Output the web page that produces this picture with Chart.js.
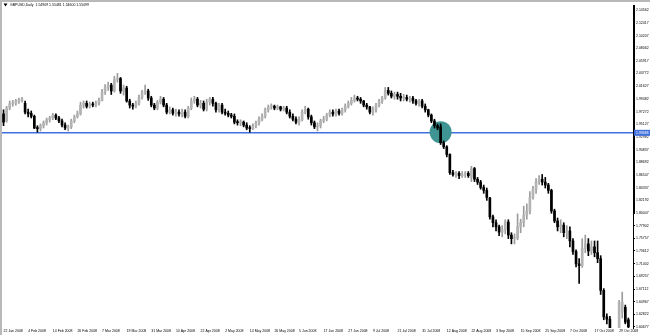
<!DOCTYPE html>
<html>
<head>
<meta charset="utf-8">
<title>GBPUSD Daily</title>
<script src="https://cdn.jsdelivr.net/npm/chart.js@4.4.1/dist/chart.umd.min.js"></script>
<style>
  html, body { margin: 0; padding: 0; background: #fff; }
  #frame { width: 648px; height: 333px; border-top: 2px solid #b9b9b9; border-left: 2px solid #b9b9b9; }
  canvas { display: block; }
</style>
</head>
<body>
<div id="frame"><canvas id="chart" width="648" height="333"></canvas></div>
<script>
/* GBPUSD daily candles, Jan-Oct 2008. */
var TITLE = 'GBPUSD,Daily  1.54909 1.55481 1.54600 1.55099';

// date labels, one every LABEL_STEP bars starting at bar 0
var LABEL_STEP = 8;
var dateLabels = ['22 Jan 2008', '4 Feb 2008', '14 Feb 2008', '26 Feb 2008', '7 Mar 2008', '19 Mar 2008',
  '31 Mar 2008', '10 Apr 2008', '22 Apr 2008', '2 May 2008', '14 May 2008', '26 May 2008', '5 Jun 2008',
  '17 Jun 2008', '27 Jun 2008', '9 Jul 2008', '21 Jul 2008', '31 Jul 2008', '12 Aug 2008', '22 Aug 2008',
  '3 Sep 2008', '15 Sep 2008', '25 Sep 2008', '7 Oct 2008', '17 Oct 2008', '29 Oct 2008'];

var priceTicks = [2.14562, 2.12417, 2.10207, 2.08062, 2.05917, 2.03772, 2.01627, 1.99482, 1.97272, 1.95127,
  1.92982, 1.90837, 1.88692, 1.86547, 1.84337, 1.82192, 1.80047, 1.77902, 1.75757, 1.73612, 1.71402,
  1.69257, 1.67112, 1.64967, 1.62822, 1.60677];
var PRICE_MIN = 1.6050, PRICE_MAX = 2.1540;

var opens = [
  1.969, 1.957, 1.979, 1.986, 1.987, 1.991, 1.992, 1.987, 1.972, 1.970,
  1.965, 1.945, 1.944, 1.949, 1.954, 1.959, 1.962, 1.967, 1.962, 1.957,
  1.950, 1.945, 1.947, 1.957, 1.964, 1.969, 1.984, 1.987, 1.982, 1.986,
  1.984, 1.987, 1.992, 2.006, 2.014, 2.018, 2.008, 2.028, 2.029, 2.008,
  2.013, 1.991, 1.984, 1.982, 1.987, 1.997, 2.006, 2.008, 1.996, 1.984,
  1.979, 1.989, 1.994, 1.984, 1.972, 1.976, 1.970, 1.972, 1.969, 1.972,
  1.965, 1.979, 1.991, 1.994, 1.984, 1.987, 1.977, 1.989, 1.994, 1.987,
  1.976, 1.984, 1.972, 1.970, 1.967, 1.965, 1.955, 1.954, 1.955, 1.950,
  1.945, 1.944, 1.949, 1.954, 1.960, 1.965, 1.976, 1.981, 1.982, 1.979,
  1.981, 1.977, 1.979, 1.972, 1.965, 1.960, 1.955, 1.959, 1.972, 1.977,
  1.964, 1.954, 1.947, 1.949, 1.957, 1.960, 1.967, 1.972, 1.969, 1.974,
  1.970, 1.976, 1.982, 1.987, 1.992, 1.996, 1.994, 1.991, 1.984, 1.981,
  1.972, 1.976, 1.984, 1.991, 1.996, 2.009, 2.004, 1.999, 2.002, 1.999,
  1.996, 1.997, 1.994, 1.996, 1.991, 1.987, 1.991, 1.982, 1.976, 1.967,
  1.957, 1.949, 1.947, 1.920, 1.913, 1.900, 1.869, 1.866, 1.868, 1.864,
  1.866, 1.868, 1.861, 1.876, 1.858, 1.853, 1.844, 1.839, 1.826, 1.794,
  1.784, 1.777, 1.768, 1.772, 1.785, 1.763, 1.757, 1.758, 1.777, 1.784,
  1.797, 1.804, 1.827, 1.841, 1.854, 1.858, 1.853, 1.848, 1.839, 1.804,
  1.787, 1.777, 1.780, 1.767, 1.770, 1.753, 1.735, 1.714, 1.711, 1.740,
  1.748, 1.736, 1.743, 1.733, 1.723, 1.669, 1.624, 1.620, 1.593, 1.570,
  1.580, 1.632, 1.640, 1.619];
var highs = [
  1.976, 1.982, 1.991, 1.992, 1.994, 1.996, 1.997, 1.991, 1.977, 1.974,
  1.967, 1.949, 1.952, 1.957, 1.962, 1.965, 1.970, 1.969, 1.965, 1.960,
  1.954, 1.950, 1.960, 1.967, 1.974, 1.989, 1.991, 1.991, 1.989, 1.989,
  1.991, 1.996, 2.011, 2.019, 2.023, 2.021, 2.033, 2.038, 2.031, 2.018,
  2.016, 1.994, 1.987, 1.991, 2.001, 2.009, 2.018, 2.011, 1.999, 1.987,
  1.992, 1.999, 1.997, 1.987, 1.981, 1.979, 1.977, 1.976, 1.977, 1.976,
  1.982, 1.996, 1.999, 1.997, 1.992, 1.991, 1.994, 1.997, 1.997, 1.989,
  1.987, 1.987, 1.977, 1.974, 1.970, 1.969, 1.959, 1.959, 1.957, 1.954,
  1.949, 1.952, 1.957, 1.964, 1.969, 1.979, 1.984, 1.986, 1.984, 1.984,
  1.982, 1.982, 1.982, 1.976, 1.969, 1.964, 1.964, 1.976, 1.982, 1.979,
  1.967, 1.957, 1.954, 1.960, 1.965, 1.970, 1.976, 1.976, 1.977, 1.977,
  1.979, 1.986, 1.991, 1.997, 2.001, 1.999, 1.997, 1.992, 1.987, 1.982,
  1.981, 1.987, 1.994, 1.999, 2.014, 2.014, 2.008, 2.006, 2.006, 2.004,
  2.002, 2.001, 1.999, 1.999, 1.994, 1.994, 1.994, 1.986, 1.977, 1.969,
  1.960, 1.952, 1.952, 1.923, 1.915, 1.901, 1.873, 1.871, 1.871, 1.871,
  1.871, 1.871, 1.880, 1.878, 1.861, 1.856, 1.848, 1.843, 1.827, 1.797,
  1.789, 1.780, 1.779, 1.789, 1.789, 1.767, 1.765, 1.799, 1.790, 1.812,
  1.816, 1.837, 1.846, 1.859, 1.864, 1.866, 1.861, 1.851, 1.841, 1.807,
  1.792, 1.789, 1.784, 1.779, 1.777, 1.757, 1.738, 1.723, 1.757, 1.763,
  1.757, 1.753, 1.753, 1.753, 1.728, 1.672, 1.629, 1.625, 1.600, 1.590,
  1.652, 1.666, 1.644, 1.622];
var lows = [
  1.949, 1.955, 1.976, 1.982, 1.984, 1.987, 1.989, 1.969, 1.964, 1.962,
  1.944, 1.938, 1.940, 1.945, 1.950, 1.955, 1.959, 1.959, 1.954, 1.947,
  1.942, 1.940, 1.944, 1.954, 1.962, 1.967, 1.979, 1.979, 1.979, 1.981,
  1.981, 1.984, 1.991, 2.002, 2.009, 2.002, 2.006, 2.023, 2.004, 2.001,
  1.989, 1.979, 1.977, 1.979, 1.984, 1.994, 2.002, 1.992, 1.981, 1.976,
  1.976, 1.986, 1.981, 1.969, 1.969, 1.967, 1.965, 1.965, 1.964, 1.962,
  1.962, 1.976, 1.987, 1.981, 1.979, 1.974, 1.974, 1.984, 1.982, 1.972,
  1.972, 1.969, 1.967, 1.964, 1.962, 1.952, 1.950, 1.949, 1.947, 1.942,
  1.938, 1.942, 1.945, 1.950, 1.957, 1.962, 1.972, 1.977, 1.976, 1.976,
  1.974, 1.974, 1.969, 1.962, 1.957, 1.952, 1.950, 1.957, 1.969, 1.960,
  1.950, 1.944, 1.940, 1.945, 1.954, 1.957, 1.964, 1.965, 1.965, 1.967,
  1.967, 1.972, 1.979, 1.984, 1.989, 1.991, 1.987, 1.981, 1.977, 1.969,
  1.967, 1.972, 1.981, 1.987, 1.994, 2.001, 1.996, 1.994, 1.994, 1.991,
  1.991, 1.991, 1.989, 1.987, 1.984, 1.982, 1.979, 1.972, 1.964, 1.954,
  1.945, 1.942, 1.917, 1.910, 1.896, 1.866, 1.863, 1.861, 1.859, 1.861,
  1.861, 1.861, 1.854, 1.854, 1.849, 1.841, 1.834, 1.822, 1.790, 1.777,
  1.770, 1.762, 1.760, 1.765, 1.757, 1.748, 1.748, 1.755, 1.767, 1.777,
  1.790, 1.799, 1.824, 1.834, 1.849, 1.848, 1.843, 1.834, 1.800, 1.784,
  1.770, 1.767, 1.760, 1.757, 1.743, 1.730, 1.709, 1.681, 1.708, 1.733,
  1.728, 1.730, 1.726, 1.716, 1.662, 1.619, 1.612, 1.585, 1.545, 1.540,
  1.575, 1.622, 1.612, 1.602];
var closes = [
  1.955, 1.979, 1.986, 1.987, 1.991, 1.992, 1.994, 1.972, 1.969, 1.965,
  1.945, 1.944, 1.949, 1.954, 1.959, 1.962, 1.967, 1.962, 1.957, 1.950,
  1.945, 1.947, 1.957, 1.964, 1.969, 1.984, 1.987, 1.982, 1.986, 1.984,
  1.987, 1.992, 2.006, 2.014, 2.018, 2.008, 2.028, 2.029, 2.008, 2.013,
  1.991, 1.984, 1.982, 1.987, 1.997, 2.006, 2.008, 1.996, 1.984, 1.979,
  1.989, 1.994, 1.984, 1.972, 1.976, 1.970, 1.972, 1.969, 1.972, 1.965,
  1.979, 1.991, 1.994, 1.984, 1.987, 1.977, 1.989, 1.994, 1.987, 1.976,
  1.984, 1.972, 1.970, 1.967, 1.965, 1.955, 1.954, 1.955, 1.950, 1.945,
  1.944, 1.949, 1.954, 1.960, 1.965, 1.976, 1.981, 1.982, 1.979, 1.981,
  1.977, 1.979, 1.972, 1.965, 1.960, 1.955, 1.959, 1.972, 1.977, 1.964,
  1.954, 1.947, 1.949, 1.957, 1.960, 1.967, 1.972, 1.969, 1.974, 1.970,
  1.976, 1.982, 1.987, 1.992, 1.996, 1.994, 1.991, 1.984, 1.981, 1.972,
  1.976, 1.984, 1.991, 1.996, 2.009, 2.004, 1.999, 2.002, 1.999, 1.996,
  1.997, 1.994, 1.996, 1.991, 1.987, 1.991, 1.982, 1.976, 1.967, 1.957,
  1.949, 1.945, 1.920, 1.913, 1.900, 1.869, 1.866, 1.868, 1.864, 1.866,
  1.868, 1.864, 1.876, 1.858, 1.853, 1.844, 1.839, 1.827, 1.794, 1.784,
  1.777, 1.768, 1.772, 1.785, 1.763, 1.757, 1.758, 1.777, 1.784, 1.797,
  1.804, 1.827, 1.841, 1.854, 1.858, 1.853, 1.848, 1.839, 1.804, 1.787,
  1.777, 1.780, 1.767, 1.770, 1.753, 1.735, 1.714, 1.711, 1.740, 1.748,
  1.736, 1.743, 1.733, 1.723, 1.669, 1.624, 1.620, 1.593, 1.570, 1.580,
  1.649, 1.649, 1.615, 1.607];

// one empty slot is left after the last bar, as MT4 does at the right edge
var BAR_SLOTS = closes.length + 1;

// horizontal level and the marker circle drawn on the chart
var LEVEL_PRICE = 1.93686;
var CIRCLE_BAR = 142, CIRCLE_PRICE = 1.938, CIRCLE_RADIUS = 11;
// the price axis line is drawn heavier from the top down to this price
var AXIS_BOLD_TO = 1.800;

var BULL_BODY = '#b3b3b3', BULL_WICK = '#9c9c9c', BEAR = '#000000';
var LEVEL_COLOR = '#3f70dd', CIRCLE_COLOR = '#3e9594';
var FONT = '"Liberation Sans", Arial, sans-serif';

var slotLabels = [];
for (var i = 0; i < BAR_SLOTS; i++) slotLabels.push(String(i));

var wicks = lows.map(function (l, i) { return [l, highs[i]]; });
var bodies = opens.map(function (o, i) { return [o, closes[i]]; });

function isBull(i) { return closes[i] >= opens[i]; }

var mtOverlay = {
  id: 'mtOverlay',
  beforeDatasetsDraw: function (chart) {
    var a = chart.chartArea, ctx = chart.ctx;
    var y = chart.scales.y.getPixelForValue(LEVEL_PRICE);
    ctx.save();
    ctx.strokeStyle = LEVEL_COLOR;
    ctx.lineWidth = 1.5;
    ctx.beginPath();
    ctx.moveTo(a.left, y);
    ctx.lineTo(a.right, y);
    ctx.stroke();
    ctx.restore();
  },
  afterDraw: function (chart) {
    var a = chart.chartArea, ctx = chart.ctx;
    var y = chart.scales.y.getPixelForValue(LEVEL_PRICE);
    ctx.save();
    // heavier upper part of the price axis
    ctx.strokeStyle = '#000';
    ctx.lineWidth = 2;
    ctx.beginPath();
    ctx.moveTo(a.right + 1, a.top);
    ctx.lineTo(a.right + 1, chart.scales.y.getPixelForValue(AXIS_BOLD_TO));
    ctx.stroke();
    // price tag on the axis
    ctx.fillStyle = LEVEL_COLOR;
    ctx.fillRect(a.right + 1, y - 3, 16, 6);
    ctx.fillStyle = '#fff';
    ctx.font = '3.5px ' + FONT;
    ctx.textBaseline = 'middle';
    ctx.textAlign = 'left';
    ctx.fillText(LEVEL_PRICE.toFixed(5), a.right + 3, y + 0.3);
    // symbol line at the top left
    ctx.fillStyle = '#000';
    ctx.beginPath();
    ctx.moveTo(1.5, 1.5);
    ctx.lineTo(5.5, 1.5);
    ctx.lineTo(3.5, 4.5);
    ctx.closePath();
    ctx.fill();
    ctx.fillText(TITLE, 8, 3.2);
    ctx.restore();
  }
};

new Chart(document.getElementById('chart'), {
  type: 'bar',
  data: {
    labels: slotLabels,
    datasets: [
      {
        type: 'bubble',
        data: [{ x: slotLabels[CIRCLE_BAR], y: CIRCLE_PRICE, r: CIRCLE_RADIUS }],
        backgroundColor: CIRCLE_COLOR,
        borderWidth: 0,
        order: 3
      },
      {
        label: 'wick',
        data: wicks,
        grouped: false,
        barThickness: 1,
        backgroundColor: function (c) { return isBull(c.dataIndex) ? BULL_WICK : BEAR; },
        order: 2
      },
      {
        label: 'body',
        data: bodies,
        grouped: false,
        barThickness: 2,
        minBarLength: 1,
        backgroundColor: function (c) { return isBull(c.dataIndex) ? BULL_BODY : BEAR; },
        order: 1
      }
    ]
  },
  options: {
    responsive: false,
    animation: false,
    layout: { padding: 0, autoPadding: false },
    plugins: { legend: { display: false }, tooltip: { enabled: false } },
    scales: {
      x: {
        type: 'category',
        offset: true,
        grid: { display: false, drawTicks: false },
        border: { display: false },
        ticks: {
          autoSkip: false,
          maxRotation: 0,
          align: 'start',
          padding: 1,
          color: '#000',
          font: { size: 3.5, family: FONT },
          callback: function (v, i) {
            return i % LABEL_STEP === 0 ? dateLabels[i / LABEL_STEP] : null;
          }
        },
        afterFit: function (s) { s.height = 7; }
      },
      y: {
        position: 'right',
        min: PRICE_MIN,
        max: PRICE_MAX,
        afterBuildTicks: function (s) {
          s.ticks = priceTicks.map(function (v) { return { value: v }; });
        },
        grid: { drawOnChartArea: false, drawTicks: true, tickLength: 2, color: '#000' },
        border: { display: true, color: '#000', width: 1 },
        ticks: {
          padding: 1,
          color: '#000',
          font: { size: 3.5, family: FONT },
          callback: function (v) { return Number(v).toFixed(5); }
        },
        afterFit: function (s) { s.width = 17; }
      }
    }
  },
  plugins: [mtOverlay]
});
</script>
</body>
</html>
